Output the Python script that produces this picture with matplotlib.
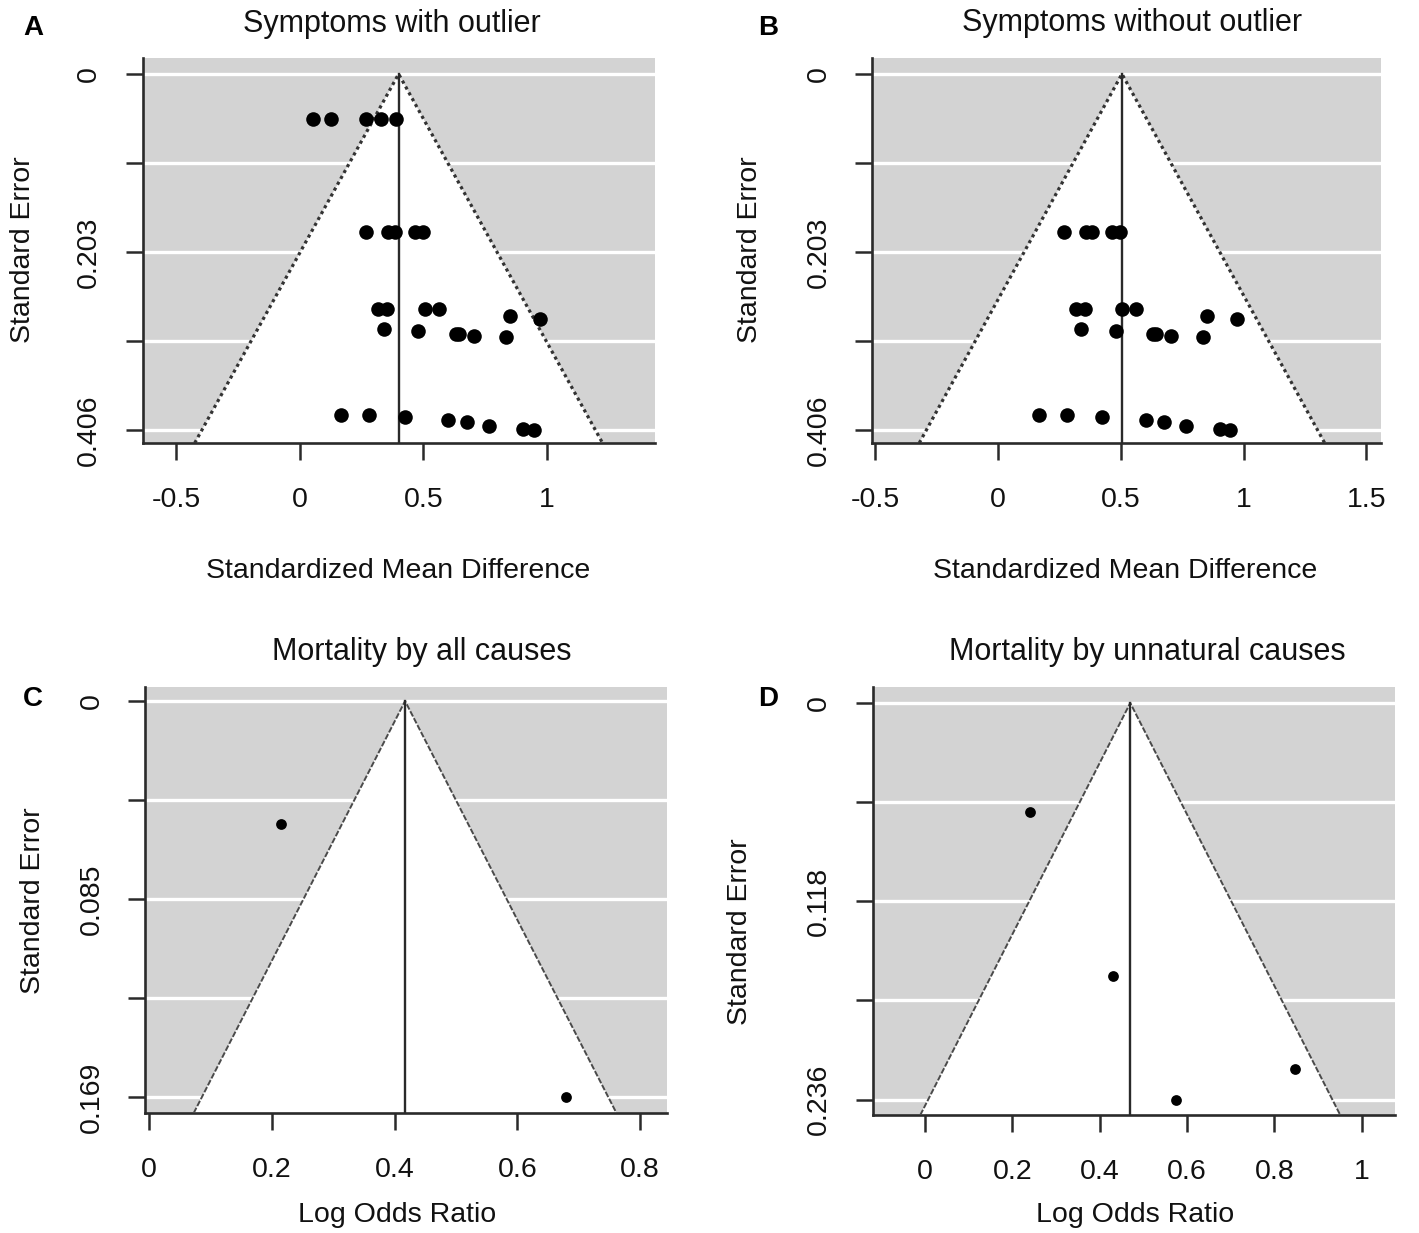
import matplotlib
matplotlib.use("Agg")
import matplotlib.pyplot as plt
import numpy as np

plt.rcParams['font.family'] = ['Liberation Sans', 'DejaVu Sans']

W, H = 1419, 1233

# ---------------- data ----------------
# studies shared by panels A and B (effect size, standard error)
sym_smd = [0.270, 0.357, 0.385, 0.465, 0.498,
           0.317, 0.353, 0.505, 0.562, 0.851, 0.972,
           0.340, 0.480, 0.633, 0.645, 0.706, 0.836,
           0.167, 0.280, 0.425, 0.601, 0.678, 0.765, 0.903, 0.946]
sym_se = [0.1805, 0.1805, 0.1805, 0.1805, 0.1805,
          0.268, 0.268, 0.268, 0.268, 0.276, 0.2797,
          0.291, 0.293, 0.2968, 0.2968, 0.2987, 0.300,
          0.389, 0.389, 0.391, 0.3946, 0.3966, 0.401, 0.405, 0.406]
# extra studies present only with the outlier (panel A)
outlier_smd = [0.053, 0.125, 0.267, 0.328, 0.389]
outlier_se = [0.0513, 0.0513, 0.0513, 0.0513, 0.0513]

all_lor = [0.214, 0.680]
all_se = [0.0526, 0.169]

unnat_lor = [0.241, 0.430, 0.848, 0.575]
unnat_se = [0.065, 0.1624, 0.2178, 0.236]

centers = {"A": 0.40, "B": 0.505, "C": 0.417, "D": 0.47}
max_se = {"A": 0.406, "B": 0.406, "C": 0.169, "D": 0.236}
se_labels = {"A": ["0", "0.203", "0.406"], "B": ["0", "0.203", "0.406"],
             "C": ["0", "0.085", "0.169"], "D": ["0", "0.118", "0.236"]}
xticks = {"A": [-0.5, 0, 0.5, 1], "B": [-0.5, 0, 0.5, 1, 1.5],
          "C": [0, 0.2, 0.4, 0.6, 0.8], "D": [0, 0.2, 0.4, 0.6, 0.8, 1]}
xticklabels = {"A": ["-0.5", "0", "0.5", "1"], "B": ["-0.5", "0", "0.5", "1", "1.5"],
               "C": ["0", "0.2", "0.4", "0.6", "0.8"],
               "D": ["0", "0.2", "0.4", "0.6", "0.8", "1"]}
titles = {"A": "Symptoms with outlier", "B": "Symptoms without outlier",
          "C": "Mortality by all causes", "D": "Mortality by unnatural causes"}
xlabels = {"A": "Standardized Mean Difference", "B": "Standardized Mean Difference",
           "C": "Log Odds Ratio", "D": "Log Odds Ratio"}

# ---------------- layout (pixels) ----------------
boxes = {"A": (142.5, 655, 58, 443), "B": (872, 1381, 58, 443),
         "C": (145, 667, 687, 1113), "D": (872.5, 1395, 687, 1115)}
xlims = {"A": (-0.636, 1.437), "B": (-0.512, 1.559),
         "C": (-0.007, 0.844), "D": (-0.120, 1.076)}
ylims = {"A": (0.4208, -0.0182), "B": (0.4208, -0.0182),
         "C": (0.1758, -0.0060), "D": (0.2452, -0.0095)}

def fx(px):
    return px / W

def fy(py):
    return 1 - py / H

fig = plt.figure(figsize=(W / 100, H / 100), dpi=100)
fig.patch.set_facecolor("white")

points = {"A": (sym_smd + outlier_smd, sym_se + outlier_se),
          "B": (sym_smd, sym_se),
          "C": (all_lor, all_se),
          "D": (unnat_lor, unnat_se)}
msize = {"A": 110, "B": 110, "C": 60, "D": 60}
ci_style = {"A": dict(ls=(0, (1, 1.1)), lw=2.3, color="#333333"),
            "B": dict(ls=(0, (1, 1.1)), lw=2.3, color="#333333"),
            "C": dict(ls=(0, (3, 1)), lw=1.4, color="#4a4a4a"),
            "D": dict(ls=(0, (3, 1)), lw=1.4, color="#4a4a4a")}

dark = "#2a2a2a"
for key in ["A", "B", "C", "D"]:
    L, R, T, B = boxes[key]
    ax = fig.add_axes([fx(L), fy(B), (R - L) / W, (B - T) / H])
    ax.set_facecolor("#d3d3d3")
    ax.set_xlim(*xlims[key])
    ax.set_ylim(*ylims[key])
    m = max_se[key]
    yt = np.linspace(0, m, 5)
    for y in yt:
        ax.axhline(y, color="white", lw=2.4, zorder=1)
    ybot = ylims[key][0]
    c = centers[key]
    tri_x = [c - 1.96 * ybot, c, c + 1.96 * ybot]
    tri_y = [ybot, 0, ybot]
    ax.fill(tri_x, tri_y, color="white", zorder=2, lw=0)
    ax.plot(tri_x, tri_y, zorder=3, **ci_style[key])
    ax.plot([c, c], [0, ybot], color=dark, lw=1.7, zorder=3)
    xs, ses = points[key]
    ax.scatter(xs, ses, s=msize[key], color="black", zorder=4, linewidths=0)

    for side in ["top", "right"]:
        ax.spines[side].set_visible(False)
    for side in ["left", "bottom"]:
        ax.spines[side].set_color(dark)
        ax.spines[side].set_linewidth(1.9)

    ax.set_xticks(xticks[key])
    ax.set_xticklabels(xticklabels[key])
    ax.set_yticks(yt)
    ax.set_yticklabels([se_labels[key][0], "", se_labels[key][1], "", se_labels[key][2]],
                       rotation=90, va="center")
    ax.tick_params(axis="both", direction="out", length=12, width=1.8, color=dark,
                   labelsize=20.5, labelcolor="#111111")
    ax.tick_params(axis="x", pad=20)
    ax.tick_params(axis="y", pad=17)

# titles
title_pos = {"A": (391.5, 32), "B": (1132, 31), "C": (421.5, 660), "D": (1147, 660)}
for k, (px, py) in title_pos.items():
    fig.text(fx(px), fy(py), titles[k], fontsize=22, ha="center", va="baseline", color="#111111")

# panel letters
letter_pos = {"A": (33, 35), "B": (768, 35), "C": (33, 706), "D": (768, 706)}
for k, (px, py) in letter_pos.items():
    fig.text(fx(px), fy(py), k, fontsize=20, fontweight="bold", ha="center", va="baseline")

# x labels
xlab_pos = {"A": (398, 578), "B": (1125, 578), "C": (397, 1222), "D": (1135, 1222)}
for k, (px, py) in xlab_pos.items():
    fig.text(fx(px), fy(py), xlabels[k], fontsize=20.5, ha="center", va="baseline", color="#111111")

# y labels
ylab_pos = {"A": (23, 250), "B": (750, 250), "C": (33, 901), "D": (740, 932)}
for k, (px, py) in ylab_pos.items():
    fig.text(fx(px), fy(py), "Standard Error", fontsize=20.5, rotation=90,
             ha="center", va="center", color="#111111")

fig.savefig("out.png", dpi=100)
